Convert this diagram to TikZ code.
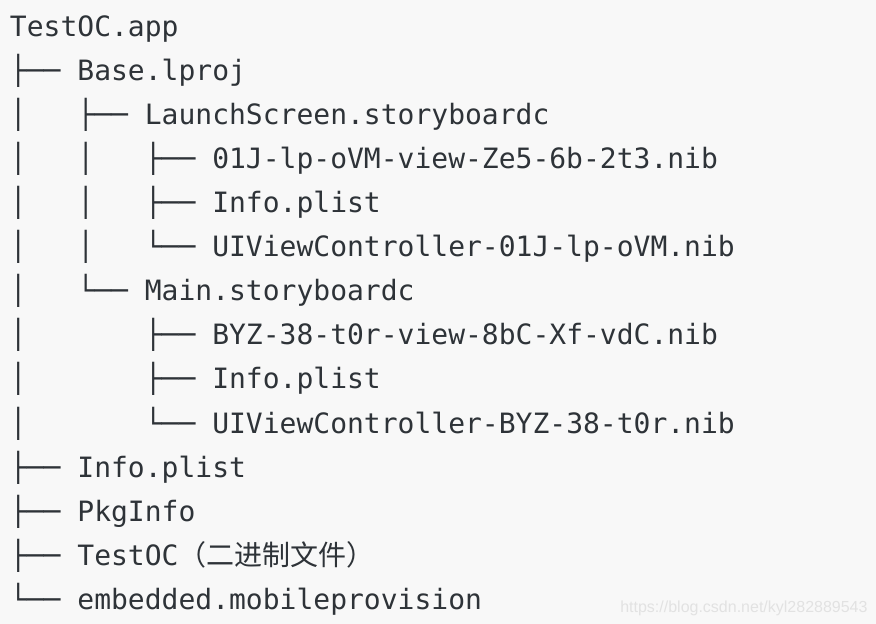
\documentclass[tikz,border=0pt]{standalone}
\usepackage{fontspec}
\newfontfamily\mono{DejaVu Sans Mono}
\newfontfamily\cjk{Noto Sans CJK SC}
\newfontfamily\wmfont{Liberation Sans}
\definecolor{bg}{RGB}{248,248,248}
\definecolor{ink}{RGB}{46,51,56}
\definecolor{wmark}{RGB}{226,226,226}
\tikzset{
  treeline/.style={anchor=base west, inner sep=0pt, outer sep=0pt, text=ink,
    font=\mono\fontsize{21}{25}\selectfont},
  watermark/.style={anchor=base west, inner sep=0pt, text=wmark,
    font=\wmfont\fontsize{12}{14}\selectfont}
}
\begin{document}
\begin{tikzpicture}[x=0.75pt, y=-0.75pt]
\fill[bg] (0,0) rectangle (876,624);
\useasboundingbox (0,0) rectangle (876,624);
\node[treeline] (l1)  at (10,37)  {TestOC.app};
\node[treeline] (l2)  at (10,81)  {├──~Base.lproj};
\node[treeline] (l3)  at (10,125) {│~~~├──~LaunchScreen.storyboardc};
\node[treeline] (l4)  at (10,169) {│~~~│~~~├──~01J-lp-oVM-view-Ze5-6b-2t3.nib};
\node[treeline] (l5)  at (10,213) {│~~~│~~~├──~Info.plist};
\node[treeline] (l6)  at (10,257) {│~~~│~~~└──~UIViewController-01J-lp-oVM.nib};
\node[treeline] (l7)  at (10,301) {│~~~└──~Main.storyboardc};
\node[treeline] (l8)  at (10,345) {│~~~~~~~├──~BYZ-38-t0r-view-8bC-Xf-vdC.nib};
\node[treeline] (l9)  at (10,389) {│~~~~~~~├──~Info.plist};
\node[treeline] (l10) at (10,433) {│~~~~~~~└──~UIViewController-BYZ-38-t0r.nib};
\node[treeline] (l11) at (10,477) {├──~Info.plist};
\node[treeline] (l12) at (10,521) {├──~PkgInfo};
\node[treeline] (l13) at (10,565) {├──~TestOC{\cjk（二进制文件）}};
\node[treeline] (l14) at (10,609) {└──~embedded.mobileprovision};
\node[watermark] (wm) at (620,612) {https://blog.csdn.net/kyl282889543};
\end{tikzpicture}
\end{document}
